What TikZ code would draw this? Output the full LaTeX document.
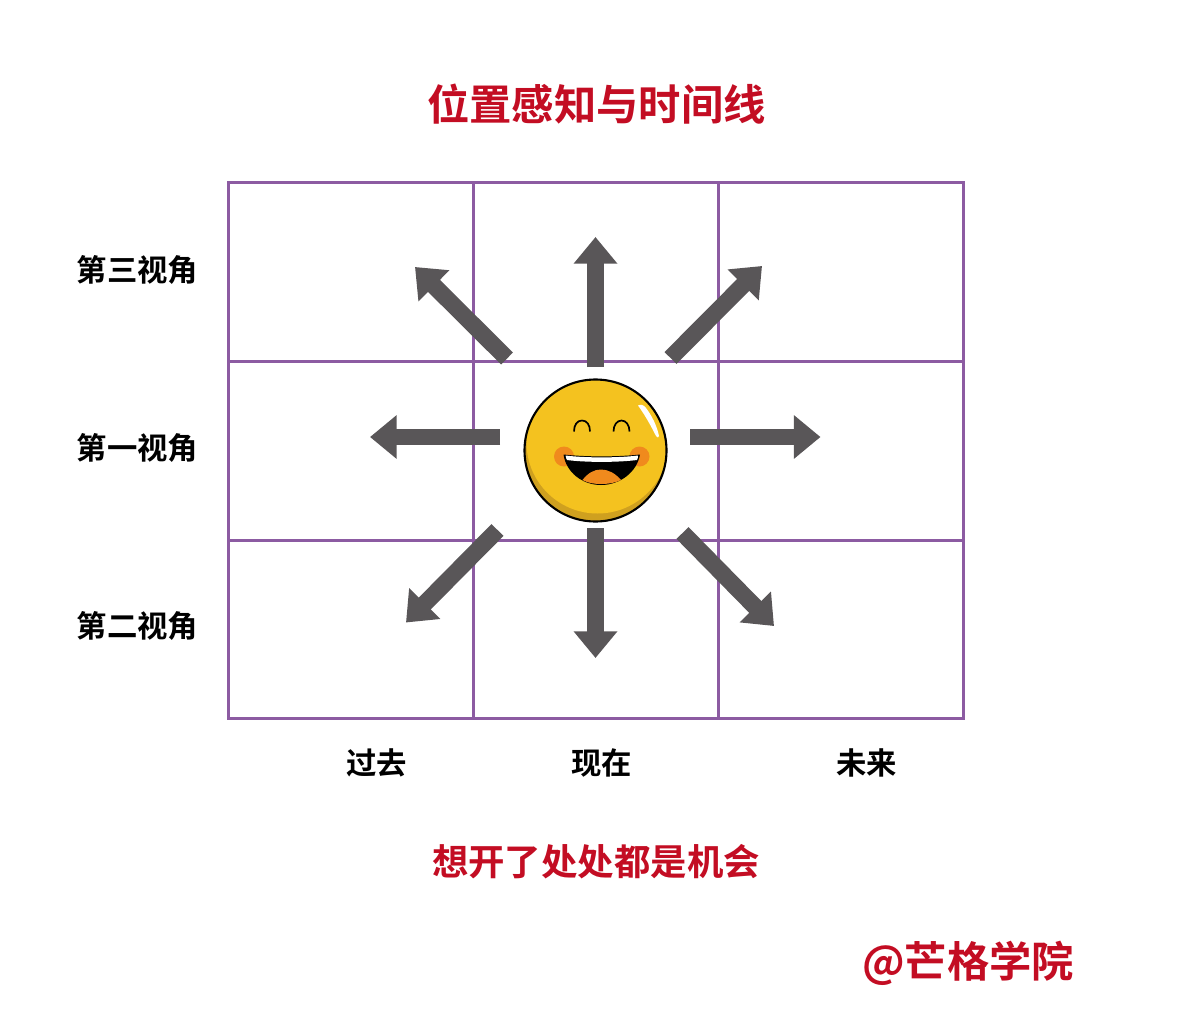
\documentclass[tikz,border=0pt]{standalone}
\usepackage{fontspec}
\setmainfont{Noto Sans CJK SC}[BoldFont={Noto Sans CJK SC Bold}]
\usetikzlibrary{arrows.meta}
\definecolor{gridpurple}{HTML}{8C5BA2}
\definecolor{arrowgray}{HTML}{595658}
\definecolor{headred}{HTML}{C30D23}
\definecolor{faceyellow}{HTML}{F4C21F}
\definecolor{faceshade}{HTML}{CFA01F}
\definecolor{cheekorange}{HTML}{F08A1D}
\tikzset{
  gridline/.style={draw=gridpurple, line width=2.1pt},
  bigarrow/.style={draw=arrowgray, line width=12pt, -{Triangle[width=30pt,length=19pt,fill=arrowgray]}},
  sidelabel/.style={font=\fontsize{21.6}{24}\selectfont\bfseries, inner sep=0pt},
  redlabel/.style={font=\fontsize{30.1}{34}\selectfont\bfseries, text=headred, inner sep=0pt},
}
\begin{document}
\begin{tikzpicture}[x=.025cm, y=-.025cm]
    \useasboundingbox (0, 0) rectangle (1200, 1030) ;
    % title and captions
    \node[redlabel] (title) at (596.5, 104) {位置感知与时间线} ;
    \node[redlabel, font=\fontsize{25.9}{30}\selectfont\bfseries] (slogan) at (596, 861.5) {想开了处处都是机会} ;
    \node[redlabel] (brand) at (968, 963) {@芒格学院} ;
    \node[sidelabel] (third) at (137.5, 270) {第三视角} ;
    \node[sidelabel] (first) at (137.5, 448) {第一视角} ;
    \node[sidelabel] (second) at (137.5, 626) {第二视角} ;
    \node[sidelabel] (past) at (376.5, 763) {过去} ;
    \node[sidelabel] (now) at (601.5, 763) {现在} ;
    \node[sidelabel] (future) at (866.5, 763) {未来} ;
    % grid
    \draw[gridline] (228.2, 182.2) rectangle (963.2, 718.2) ;
    \draw[gridline] (473.2, 182.2) -- (473.2, 718.2) ;
    \draw[gridline] (718.2, 182.2) -- (718.2, 718.2) ;
    \draw[gridline] (228.2, 361.2) -- (963.2, 361.2) ;
    \draw[gridline] (228.2, 540.2) -- (963.2, 540.2) ;
    % arrows
    \coordinate (upfrom) at (595.5, 367) ;
    \coordinate (upto) at (595.5, 237) ;
    \coordinate (downfrom) at (595.5, 528) ;
    \coordinate (downto) at (595.5, 658) ;
    \coordinate (leftfrom) at (500, 437) ;
    \coordinate (leftto) at (370, 437) ;
    \coordinate (rightfrom) at (690, 437) ;
    \coordinate (rightto) at (820.5, 437) ;
    \coordinate (nwfrom) at (507, 358.5) ;
    \coordinate (nwto) at (415, 267) ;
    \coordinate (nefrom) at (670.5, 358) ;
    \coordinate (neto) at (762, 266) ;
    \coordinate (swfrom) at (497.5, 530) ;
    \coordinate (swto) at (406, 622.5) ;
    \coordinate (sefrom) at (682.5, 533) ;
    \coordinate (seto) at (774, 626) ;
    \draw[bigarrow] (upfrom) -- (upto) ;
    \draw[bigarrow] (downfrom) -- (downto) ;
    \draw[bigarrow] (leftfrom) -- (leftto) ;
    \draw[bigarrow] (rightfrom) -- (rightto) ;
    \draw[bigarrow] (nwfrom) -- (nwto) ;
    \draw[bigarrow] (nefrom) -- (neto) ;
    \draw[bigarrow] (swfrom) -- (swto) ;
    \draw[bigarrow] (sefrom) -- (seto) ;
    % face
    \begin{scope}
      \clip (595.5, 450.5) circle (71.5) ;
      \fill[faceshade] (595.5, 450.5) circle (71.5) ;
      \fill[faceyellow] (597.5, 442.5) circle (71) ;
    \end{scope}
    \draw[line width=1.5pt] (595.5, 450.5) circle (71) ;
    \fill[white] (638, 405.5) .. controls (641, 404) and (644, 405) .. (646, 408)
      .. controls (652, 416) and (657, 426) .. (659, 436)
      .. controls (659, 438) and (657, 438) .. (656, 436)
      .. controls (651, 426) and (645, 415) .. cycle ;
    \fill[cheekorange] (564, 456.5) circle (10) ;
    \fill[cheekorange] (639.5, 456.5) circle (10) ;
    \draw[line width=1.2pt] (574, 431.5) .. controls (574, 425) and (577, 420.5) .. (582, 420.5)
      .. controls (587, 420.5) and (590, 425) .. (590, 431.5) ;
    \draw[line width=1.2pt] (613.5, 431.5) .. controls (613.5, 425) and (617, 420.5) .. (621.5, 420.5)
      .. controls (626, 420.5) and (629.5, 425) .. (629.5, 431.5) ;
    \fill[black] (563.5, 454.5) .. controls (585, 457) and (618, 457) .. (640, 454.5)
      .. controls (637, 472) and (620, 485) .. (601, 485)
      .. controls (582, 485) and (566, 472) .. cycle ;
    \fill[white] (565.5, 455.5) .. controls (585, 458) and (618, 458) .. (638, 455.5)
      .. controls (638, 458) and (637.5, 459) .. (637, 460)
      .. controls (618, 462.5) and (585, 462.5) .. (567, 460)
      .. controls (566.5, 459) and (566, 458) .. cycle ;
    \fill[cheekorange] (582.5, 480) .. controls (588, 473) and (594, 469.5) .. (601, 469.5)
      .. controls (608, 469.5) and (615, 473) .. (621, 480)
      .. controls (615, 483) and (608, 484) .. (601, 484)
      .. controls (594, 484) and (588, 483) .. cycle ;
\end{tikzpicture}
\end{document}
